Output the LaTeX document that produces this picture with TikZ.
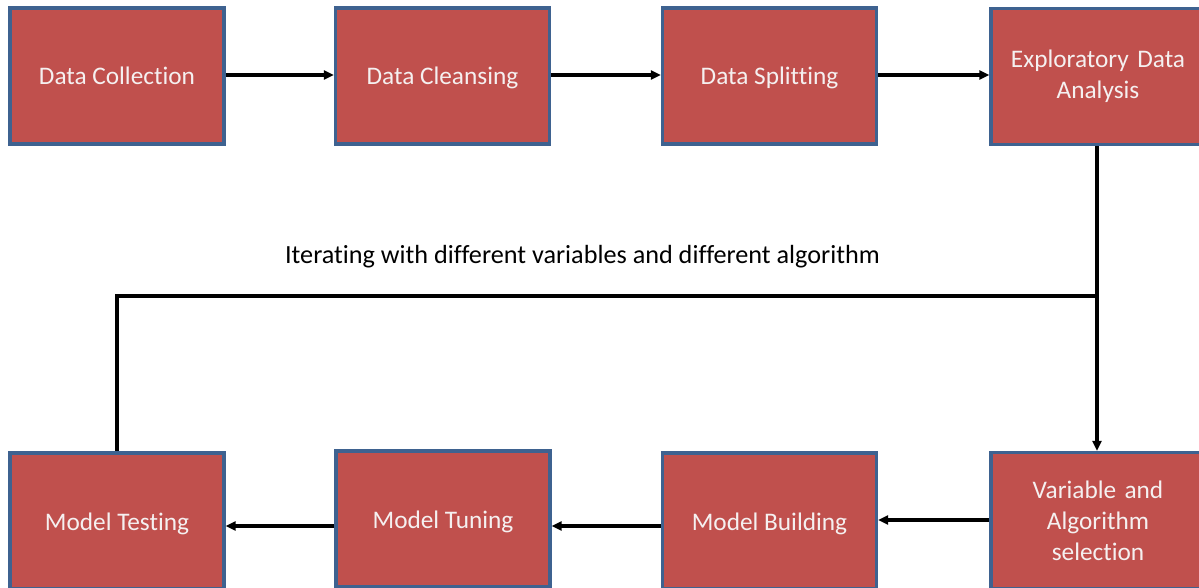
\documentclass[tikz,border=0pt]{standalone}
\usepackage{fontspec}
\setmainfont{Carlito}[Ligatures={NoCommon}]
\usetikzlibrary{arrows.meta}
\definecolor{boxfill}{HTML}{C0504D}
\definecolor{boxline}{HTML}{3E6290}
\definecolor{boxtext}{HTML}{F5F0F0}
\begin{document}
\begin{tikzpicture}[x=1pt,y=-1pt,
  stage/.style={draw=boxline,fill=boxfill,line width=3.2pt,minimum width=214pt,minimum height=136pt,
    inner sep=0pt,text=boxtext,font=\fontsize{25.3}{31}\selectfont,align=center,text width=205pt},
  flow/.style={line width=3.4pt,-{Triangle[length=10pt,width=9pt]}},
  plain/.style={line width=3.4pt}]
\useasboundingbox (0,0) rectangle (1199,588);
\clip (0,0) rectangle (1199,588);
\node[stage] (dc) at (117,76) {};
\node[text=boxtext,font=\fontsize{25.3}{31}\selectfont] (dct) at (117,78) {Data Collection\vphantom{g}};
\node[stage] (cl) at (442.5,76) {};
\node[text=boxtext,font=\fontsize{25.3}{31}\selectfont] (clt) at (442.5,78) {Data Cleansing\vphantom{g}};
\node[stage] (sp) at (769.5,76) {};
\node[text=boxtext,font=\fontsize{25.3}{31}\selectfont] (spt) at (769.5,78) {Data Splitting\vphantom{g}};
\node[stage] (eda) at (1098,76.5) {Exploratory Data\\Analysis};
\node[stage] (mt) at (117,521) {};
\node[text=boxtext,font=\fontsize{25.3}{31}\selectfont] (mtt) at (117,524) {Model Testing\vphantom{g}};
\node[stage] (mtu) at (443,519) {};
\node[text=boxtext,font=\fontsize{25.3}{31}\selectfont] (mtut) at (443,521.5) {Model Tuning\vphantom{g}};
\node[stage] (mb) at (769.5,521) {};
\node[text=boxtext,font=\fontsize{25.3}{31}\selectfont] (mbt) at (769.5,523.5) {Model Building\vphantom{g}};
\node[stage] (vas) at (1098,520.5) {Variable and\\Algorithm\\selection};
\draw[flow] (dc.east |- 0,75) -- (cl.west |- 0,75);
\draw[flow] (cl.east |- 0,75) -- (sp.west |- 0,75);
\draw[flow] (sp.east |- 0,75) -- (eda.west |- 0,75);
\draw[flow] (eda.south -| 1097,0) -- (vas.north -| 1097,0);
\draw[flow] (vas.west |- 0,520) -- (mb.east |- 0,520);
\draw[flow] (mb.west |- 0,526) -- (mtu.east |- 0,526);
\draw[flow] (mtu.west |- 0,526) -- (mt.east |- 0,526);
\coordinate (j) at (1097,296);
\coordinate (k) at (117,296);
\draw[plain] (j) -- (k) -- (mt.north);
\node[font=\fontsize{26.2}{30}\selectfont] (lbl) at (582.5,257) {Iterating with different variables and different algorithm};
\end{tikzpicture}
\end{document}
